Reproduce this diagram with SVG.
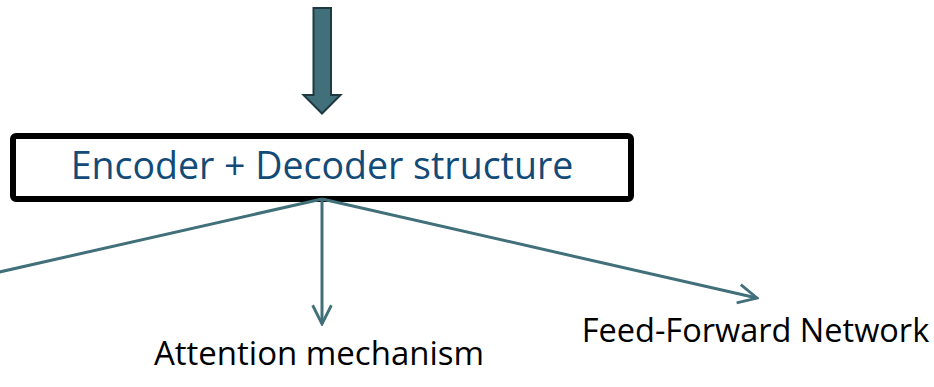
<svg xmlns="http://www.w3.org/2000/svg" width="934" height="387" viewBox="0 0 934 387">
<defs>
<style>
.lbl{font-family:"Open Sans","Noto Sans",sans-serif;font-size:33px;fill:#000}
.title{font-family:"Open Sans","Noto Sans",sans-serif;font-size:37.5px;fill:#124a78}
.conn{stroke:#41707a;stroke-width:3;fill:none}
</style>
<marker id="ah" viewBox="0 0 12 12" refX="11" refY="6" markerWidth="7.5" markerHeight="7.5" markerUnits="strokeWidth" orient="auto">
<path d="M1,1 L11,6 L1,11" fill="none" stroke="#41707a" stroke-width="1.5"/>
</marker>
</defs>
<rect width="934" height="387" fill="#fff"/>
<g id="input-arrow">
<path d="M313.5,8 H331 V95 H340.5 L322,113.5 L303.5,95 H313.5 Z" fill="#41707a" stroke="#1e3a40" stroke-width="2"/>
</g>
<g id="structure">
<rect x="13" y="136" width="618" height="63" rx="3" fill="#fff" stroke="#000" stroke-width="6"/>
<text class="title" x="322" y="179" text-anchor="middle">Encoder + Decoder structure</text>
</g>
<g id="connectors">
<line class="conn" x1="322" y1="199" x2="-5" y2="273"/>
<line class="conn" x1="322" y1="199" x2="322" y2="324" marker-end="url(#ah)"/>
<line class="conn" x1="322" y1="199" x2="757" y2="298" marker-end="url(#ah)"/>
</g>
<g id="attention">
<text class="lbl" x="319" y="365" text-anchor="middle">Attention mechanism</text>
</g>
<g id="ffn">
<text class="lbl" x="755.5" y="342" text-anchor="middle" style="font-size:32.5px">Feed-Forward Network</text>
</g>
</svg>
